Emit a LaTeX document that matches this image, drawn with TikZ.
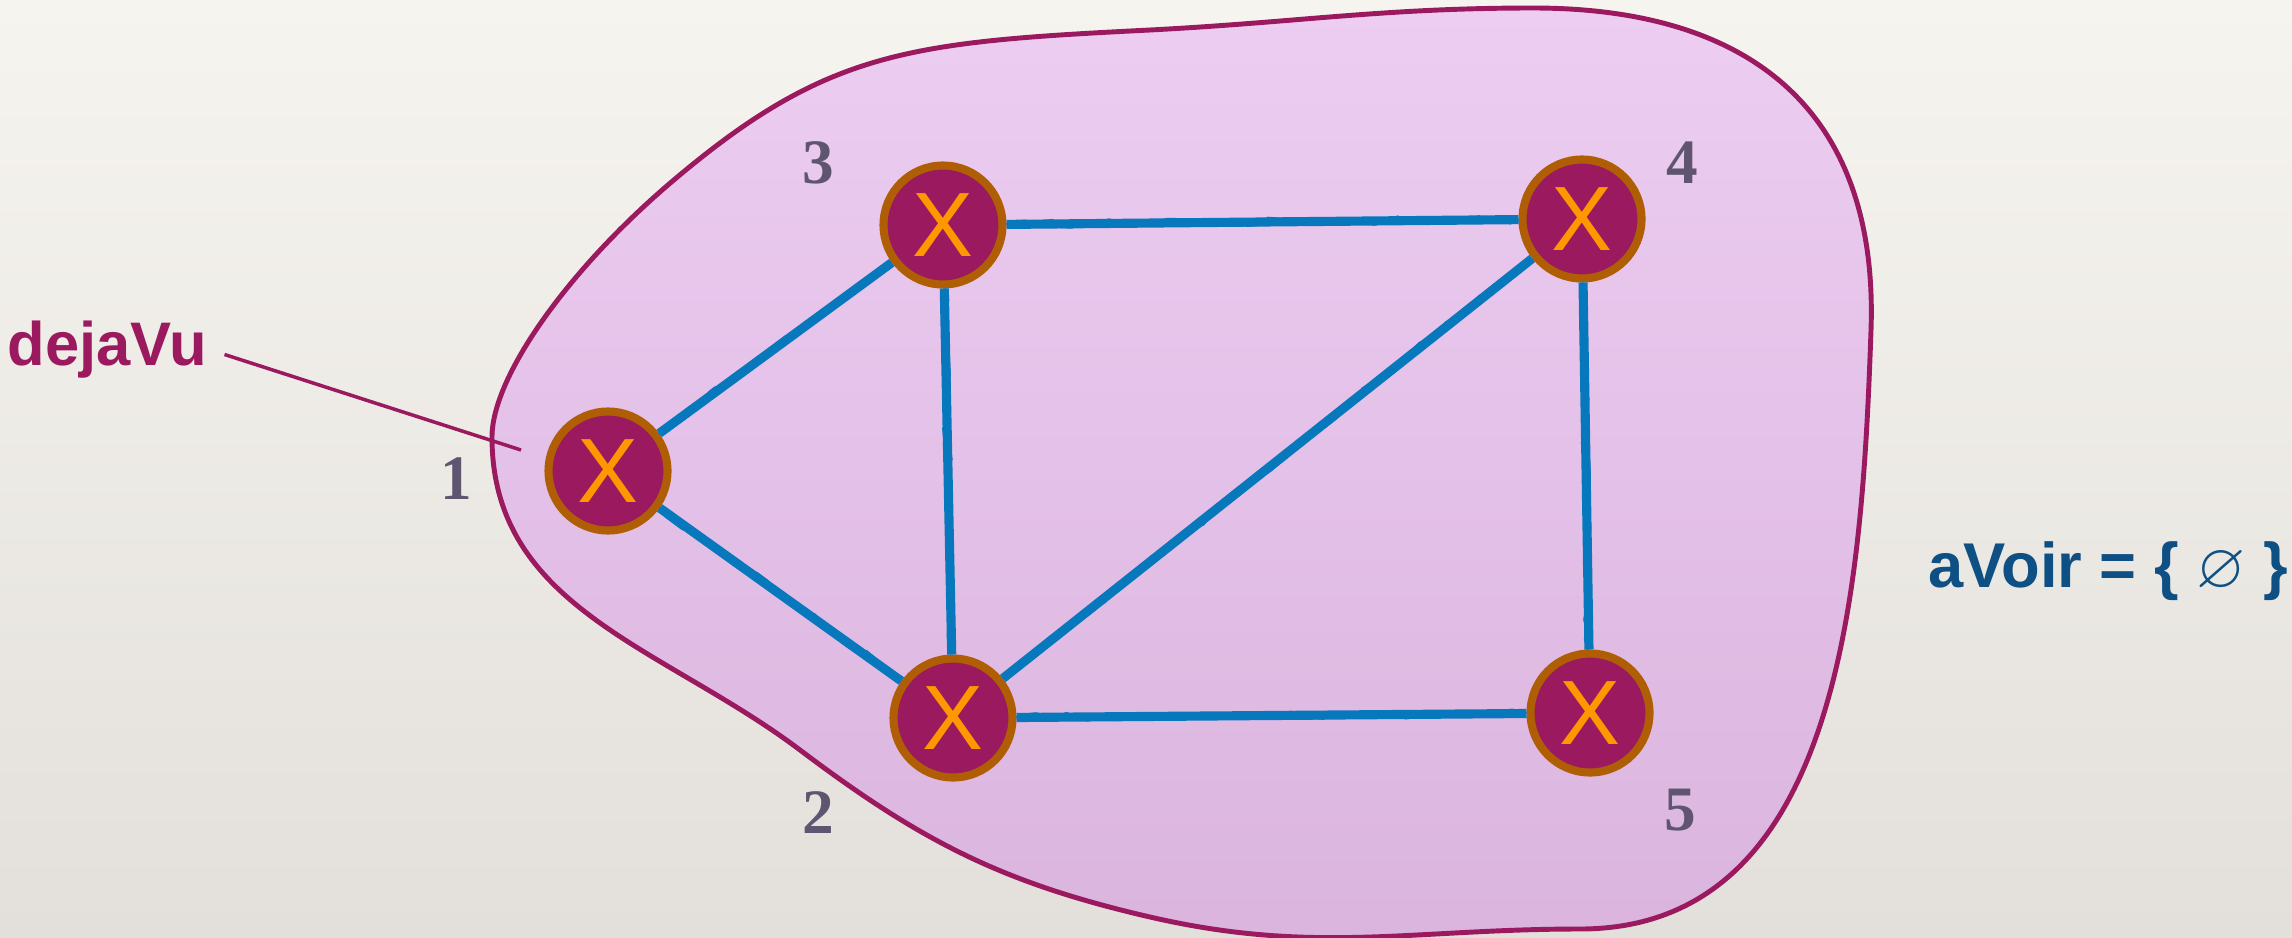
\documentclass[tikz,border=0pt]{standalone}
\usepackage{amssymb}
\usepackage{fontspec}
\setsansfont{Liberation Sans}
\newfontfamily\numfont{Liberation Serif}
\usepackage{tikz}
\usetikzlibrary{positioning,decorations.pathmorphing}
\usepackage{xcolor}
\definecolor{dvmagenta}{RGB}{155,25,94}
\definecolor{dvring}{RGB}{176,94,5}
\definecolor{dvorange}{RGB}{255,152,0}
\definecolor{dvblue}{RGB}{8,120,188}
\definecolor{dvnavy}{RGB}{14,80,132}
\definecolor{dvgray}{RGB}{95,85,112}
\definecolor{dvpinktop}{RGB}{237,205,242}
\definecolor{dvpinkbot}{RGB}{218,180,221}
\definecolor{papertop}{RGB}{246,244,238}
\definecolor{paperbot}{RGB}{227,224,219}
\tikzstyle{vertex} = [circle, minimum size=1.19cm, inner sep=0pt, draw=dvring, fill=dvmagenta, line width=2.3pt, text=dvorange, font=\fontsize{26}{26}\selectfont\sffamily]
\tikzstyle{link} = [line width=2.6pt, color=dvblue]
\tikzstyle{chalk} = [line width=1pt, color=dvblue, decorate, decoration={random steps, segment length=3pt, amplitude=1pt}]
\tikzstyle{vnum} = [font=\fontsize{18}{18}\selectfont\numfont\bfseries, text=dvgray]
\tikzstyle{bigtag} = [inner sep=0pt, anchor=base west, font=\fontsize{17.5}{20}\selectfont\sffamily\bfseries]

\begin{document}
\begin{tikzpicture}[node distance=1cm]
% Paper
\useasboundingbox (0,0) rectangle (22.92,9.37);
\shade[top color=papertop, bottom color=paperbot] (0,0) rectangle (22.92,9.37);

% Visited region
\path[draw=dvmagenta, line width=1.4pt, top color=dvpinktop, bottom color=dvpinkbot]
  (4.92,5.00) .. controls (4.92,5.60) and (5.68,6.68) .. (6.75,7.58)
  .. controls (8.28,8.87) and (9.10,8.95) .. (11.50,9.07)
  to[out=3, in=180] (15.33,9.29)
  to[out=0, in=88, looseness=1.2] (18.71,6.07)
  to[out=-92, in=0] (15.80,0.08)
  to[out=180, in=-13] (11.50,0.20)
  to[out=167, in=-37] (8.00,1.87)
  to[out=143, in=-90] cycle;

% Vertices
\node (n1) [vertex] at (6.08,4.66) {X};
\node (n3) [vertex] at (9.43,7.12) {X};
\node (n4) [vertex] at (15.82,7.18) {X};
\node (n2) [vertex] at (9.53,2.19) {X};
\node (n5) [vertex] at (15.90,2.24) {X};

% Edges
\draw[link] (n1) -- (n3) (n1) -- (n2) (n3) -- (n4) (n3) -- (n2)
  (n2) -- (n4) (n4) -- (n5) (n2) -- (n5);
\draw[chalk] (n1) -- (n3) (n1) -- (n2) (n3) -- (n4) (n3) -- (n2)
  (n2) -- (n4) (n4) -- (n5) (n2) -- (n5);

% Numbers
\node (l1) [vnum, left of=n1, xshift=-0.52cm, yshift=-0.08cm] {1};
\node (l2) [vnum, left of=n2, xshift=-0.35cm, yshift=-0.95cm] {2};
\node (l3) [vnum, left of=n3, xshift=-0.25cm, yshift=0.62cm] {3};
\node (l4) [vnum, right of=n4, yshift=0.56cm] {4};
\node (l5) [vnum, below of=n5, xshift=0.9cm, yshift=0.03cm] {5};

% Sets
\node (dejavu) [bigtag, text=dvmagenta] at (0.07,5.72) {dejaVu};
\coordinate (dvtip) at (5.21,4.87);
\draw[dvmagenta, line width=1pt, shorten <=5pt] (dejavu.east) -- (dvtip);
\node (avoir) [bigtag, text=dvnavy, font=\fontsize{18}{20}\selectfont\sffamily\bfseries] at (19.28,3.50) {aVoir = \{ $\varnothing$ \}};
\end{tikzpicture}
\end{document}
